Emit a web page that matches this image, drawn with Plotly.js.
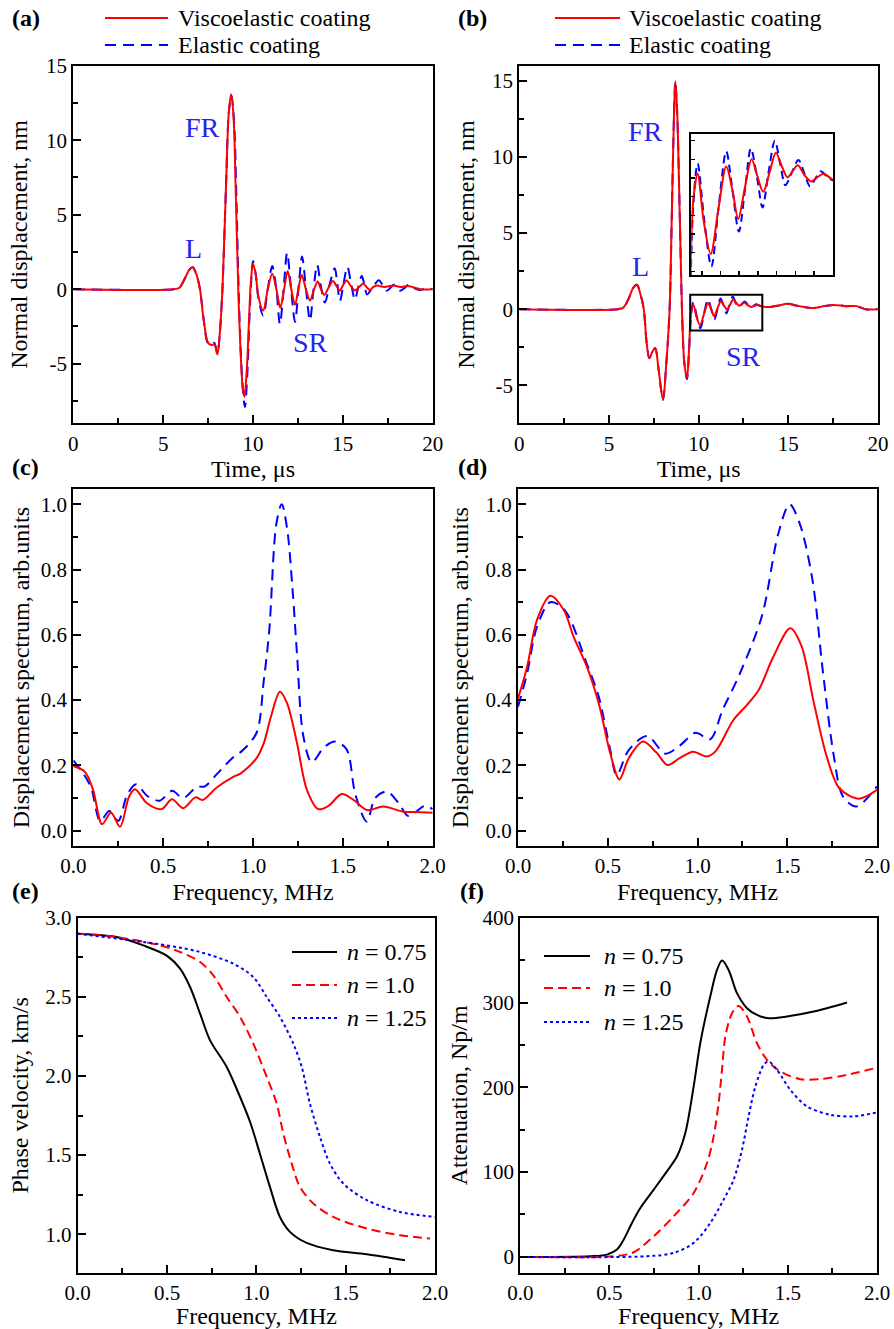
<!DOCTYPE html>
<html>
<head>
<meta charset="utf-8">
<script src="https://cdn.plot.ly/plotly-3.0.1.min.js"></script>
<style>html,body{margin:0;padding:0;background:#fff;}</style>
</head>
<body>
<div id="chart" style="width:894px;height:1329px;"></div>
<script>
// ---------- (a) time signals, thick coating ----------
const tRedA = [0,5.6,5.9,6.2,6.45,6.64,6.85,7.05,7.25,7.5,7.7,7.85,8.02,8.15,8.3,8.5,8.65,8.78,8.92,9.05,9.18,9.3,9.42,9.52,9.65,9.78,9.87,10.0,10.15,10.3,10.57,10.82,11.07,11.3,11.52,11.73,11.93,12.13,12.34,12.52,12.71,12.94,13.17,13.4,13.6,13.78,13.97,14.2,14.45,14.65,14.84,15.0,15.21,15.45,15.67,15.9,16.14,16.35,16.5,16.7,16.9,17.3,17.8,18.2,18.6,19.0,19.3,20];
const yRedA = [0,0,0.1,0.7,1.3,1.47,1.0,0,-2.0,-3.6,-3.75,-3.7,-4.37,-3,0,7,11.8,13.08,11.5,6,0,-4,-6.5,-7.23,-5.5,-2,0.3,1.7,1.0,-0.5,-1.43,0,1.03,0,-1.25,0,1.22,0,-1.05,0,0.95,0,-0.76,0,0.52,0,-0.38,0.1,0.55,0.2,-0.09,0.25,0.58,0.2,-0.09,0.15,0.36,0.1,-0.05,0.15,0.25,0.15,0.25,0.15,0.22,0.1,0,0];
const tBlueA = [0,5.6,5.9,6.2,6.45,6.64,6.85,7.05,7.25,7.5,7.7,7.85,8.02,8.15,8.3,8.5,8.65,8.8,8.95,9.08,9.2,9.32,9.45,9.55,9.68,9.8,9.9,10.0,10.15,10.3,10.57,10.82,11.07,11.3,11.5,11.7,11.9,12.12,12.34,12.53,12.73,12.95,13.17,13.37,13.57,13.78,14.0,14.28,14.55,14.7,14.84,15.03,15.25,15.47,15.67,15.85,16.05,16.2,16.35,16.7,17.0,17.25,17.45,17.65,17.85,18.2,18.45,18.72,19.0,19.3,19.6,20];
const yBlueA = [0,0,0.1,0.7,1.3,1.47,1.0,0,-2.0,-3.65,-3.75,-3.6,-4.3,-3,0,7,11.8,13.0,11.2,6,0,-4.2,-7,-7.9,-5.8,-2,0.5,1.9,1.0,-0.6,-1.77,0,1.55,0,-2.35,0,2.45,0,-2.2,0,2.2,0,-2.1,0,1.65,0.2,-0.9,0.4,1.4,0.3,-0.8,0.3,1.5,0.3,-0.7,0.1,0.9,0.3,-0.35,0.2,0.6,0.2,-0.1,0.1,0.3,-0.1,0.1,0.35,0.05,-0.05,0.05,0];

// ---------- (b) time signals, thin coating ----------
const tRedB = [0,5.5,5.8,6.1,6.35,6.56,6.75,6.94,7.1,7.25,7.42,7.58,7.75,8.01,8.2,8.38,8.5,8.62,8.7,8.8,8.95,9.07,9.2,9.35,9.47,9.58,9.71,9.88,10.08,10.3,10.52,10.7,10.86,11.05,11.24,11.4,11.57,11.75,11.93,12.1,12.26,12.4,12.55,12.75,12.93,13.1,13.29,13.55,14.0,14.5,14.93,15.6,16.32,17.0,17.53,18.2,18.8,19.3,20];
const yRedB = [0,0,0.1,0.7,1.4,1.6,1.0,0,-2.2,-3.22,-2.8,-2.56,-3.8,-5.95,-3.5,0,6,12.5,14.98,13,6,0,-3.5,-4.53,-2.5,-0.2,0.28,-0.5,-1.05,-0.3,0.40,0.0,-0.47,0.05,0.52,0.25,-0.02,0.3,0.63,0.4,0.22,0.32,0.42,0.25,0.15,0.22,0.28,0.18,0.15,0.25,0.35,0.2,0.07,0.2,0.28,0.2,0.2,0,0];
const tBlueB = [0,5.5,5.8,6.1,6.35,6.56,6.75,6.94,7.1,7.25,7.42,7.58,7.75,8.01,8.2,8.38,8.5,8.62,8.7,8.8,8.95,9.07,9.2,9.35,9.47,9.58,9.71,9.9,10.1,10.3,10.52,10.7,10.88,11.05,11.22,11.4,11.55,11.72,11.9,12.05,12.2,12.38,12.57,12.73,12.9,13.05,13.2,13.4,13.55,14.0,14.5,14.93,15.6,16.32,17.0,17.53,18.2,18.8,19.3,20];
const yBlueB = [0,0,0.1,0.7,1.4,1.6,1.0,0,-2.2,-3.22,-2.8,-2.56,-3.8,-5.95,-3.5,0,6,12.5,14.98,13,6,0,-3.5,-4.6,-2.6,-0.3,0.45,-0.5,-1.26,-0.3,0.65,0.0,-0.68,0.0,0.70,0.2,-0.28,0.3,0.83,0.45,0.09,0.3,0.51,0.3,0.07,0.2,0.32,0.22,0.17,0.15,0.25,0.35,0.2,0.07,0.2,0.28,0.2,0.2,0,0];
const insetX = [9.53, 13.55];
const insetY = [-1.4, 0.94];

// ---------- (c) spectra ----------
const fRedC = [0,0.065,0.11,0.16,0.21,0.26,0.31,0.343,0.41,0.49,0.55,0.61,0.68,0.72,0.8,0.89,0.93,1.02,1.06,1.1,1.15,1.19,1.243,1.3,1.363,1.42,1.494,1.56,1.636,1.725,1.836,1.9,2.0];
const sRedC = [0.198,0.18,0.125,0.02,0.055,0.012,0.104,0.127,0.084,0.066,0.096,0.069,0.102,0.094,0.133,0.165,0.175,0.222,0.268,0.35,0.426,0.39,0.273,0.125,0.066,0.076,0.112,0.094,0.063,0.074,0.058,0.057,0.055];
const fBlueC = [0,0.056,0.1,0.15,0.2,0.25,0.3,0.35,0.41,0.48,0.55,0.61,0.69,0.73,0.8,0.89,0.94,1.02,1.06,1.09,1.13,1.16,1.19,1.22,1.245,1.28,1.327,1.395,1.456,1.52,1.57,1.633,1.68,1.744,1.81,1.864,1.957,2.0];
const sBlueC = [0.215,0.175,0.13,0.03,0.06,0.03,0.11,0.142,0.107,0.092,0.122,0.1,0.135,0.135,0.174,0.225,0.245,0.3,0.46,0.61,0.94,1.0,0.925,0.74,0.54,0.29,0.21,0.255,0.273,0.25,0.11,0.028,0.1,0.12,0.085,0.045,0.076,0.066];

// ---------- (d) spectra ----------
const fRedD = [0,0.05,0.106,0.18,0.255,0.31,0.384,0.45,0.514,0.565,0.617,0.696,0.77,0.834,0.9,0.975,1.05,1.1,1.2,1.275,1.34,1.42,1.517,1.58,1.645,1.72,1.79,1.9,2.0];
const sRedD = [0.405,0.5,0.646,0.72,0.676,0.594,0.502,0.39,0.237,0.157,0.222,0.273,0.24,0.201,0.222,0.242,0.227,0.243,0.339,0.385,0.43,0.53,0.62,0.565,0.4,0.227,0.13,0.098,0.125];
const fBlueD = [0,0.05,0.106,0.18,0.26,0.384,0.45,0.514,0.55,0.617,0.72,0.82,0.9,0.99,1.07,1.14,1.235,1.36,1.45,1.513,1.57,1.64,1.7,1.76,1.81,1.885,2.0];
const sBlueD = [0.38,0.48,0.625,0.70,0.676,0.51,0.41,0.247,0.17,0.247,0.29,0.236,0.26,0.30,0.28,0.37,0.48,0.66,0.91,1.0,0.94,0.77,0.48,0.227,0.105,0.074,0.136];

// ---------- (e) phase velocity ----------
const fE075 = [0,0.218,0.367,0.498,0.573,0.629,0.685,0.741,0.834,0.909,0.965,1.02,1.076,1.132,1.188,1.282,1.43,1.618,1.832];
const vE075 = [2.899,2.878,2.825,2.76,2.678,2.562,2.394,2.225,2.057,1.867,1.709,1.509,1.299,1.109,1.015,0.945,0.899,0.874,0.836];
const fE100 = [0,0.218,0.461,0.573,0.685,0.759,0.834,0.909,0.983,1.058,1.114,1.151,1.198,1.244,1.319,1.431,1.618,1.804,1.972];
const vE100 = [2.899,2.878,2.825,2.783,2.72,2.636,2.499,2.373,2.204,1.994,1.825,1.636,1.446,1.299,1.194,1.109,1.036,0.994,0.973];
const fE125 = [0,0.498,0.685,0.871,0.983,1.058,1.132,1.207,1.254,1.3,1.356,1.412,1.487,1.618,1.804,2.0];
const vE125 = [2.899,2.825,2.783,2.709,2.625,2.499,2.373,2.204,2.057,1.825,1.615,1.446,1.32,1.215,1.141,1.109];

// ---------- (f) attenuation ----------
const fF075 = [0,0.393,0.486,0.542,0.58,0.626,0.673,0.748,0.822,0.879,0.925,0.972,1.009,1.065,1.103,1.131,1.168,1.215,1.271,1.327,1.392,1.495,1.645,1.832];
const aF075 = [0,0.8,2.7,8.6,20.4,40,57.7,79.3,100.9,118.6,146,201,252,307,338.4,349.4,338.4,311,293.3,285.4,281.5,283.5,289.3,300];
const fF100 = [0,0.523,0.636,0.748,0.86,0.972,1.047,1.084,1.112,1.131,1.15,1.187,1.224,1.271,1.327,1.383,1.458,1.57,1.682,1.832,1.99];
const aF100 = [0,0.8,5.5,24.3,47.9,75.4,110.7,142.1,181.4,220.6,260,287.4,296,283.5,252,232.4,218.7,209.6,209.6,214.7,222.6];
const fF125 = [0,0.71,0.86,0.972,1.065,1.14,1.196,1.243,1.28,1.318,1.365,1.392,1.439,1.514,1.607,1.738,1.869,2.0];
const aF125 = [0,0.8,4.7,16.5,40,67.5,91,126.4,165.7,201,226.5,230.5,220.6,197,177.5,167.6,165.7,170.4];

const seriesNames = ['Viscoelastic coating', 'Elastic coating'];
const nNames = ['<i>n</i> = 0.75', '<i>n</i> = 1.0', '<i>n</i> = 1.25'];
const yTickVals = [-5, 0, 5, 10, 15];
const yTickText = ['-5', '0', '5', '10', '15'];

// ---------- styling ----------
const FONT = 'Liberation Serif, Times New Roman, serif';
const RED = '#ff0000', BLUE = '#0000ff', BLACK = '#000000';
const LBL = '#2424f0';
const W = 894, H = 1329;
const px = v => v / W;
const py = v => 1 - v / H;
const DASH_AB = '11px,7px', DASH_N1 = '9px,5px', DOT_N2 = '3px,3px';

function line(color, dash){ return {color: color, width: 2, dash: dash || 'solid', shape: 'spline', smoothing: 0.9}; }

const traces = [
  {x: tBlueA, y: yBlueA, xaxis:'x', yaxis:'y', mode:'lines', name: seriesNames[1], line: line(BLUE, DASH_AB)},
  {x: tRedA, y: yRedA, xaxis:'x', yaxis:'y', mode:'lines', name: seriesNames[0], line: line(RED)},
  {x: tBlueB, y: yBlueB, xaxis:'x2', yaxis:'y2', mode:'lines', name: seriesNames[1], line: line(BLUE, DASH_AB)},
  {x: tRedB, y: yRedB, xaxis:'x2', yaxis:'y2', mode:'lines', name: seriesNames[0], line: line(RED)},
  {x: tBlueB, y: yBlueB, xaxis:'x7', yaxis:'y7', mode:'lines', name: seriesNames[1], line: line(BLUE, '8px,5px')},
  {x: tRedB, y: yRedB, xaxis:'x7', yaxis:'y7', mode:'lines', name: seriesNames[0], line: line(RED)},
  {x: fBlueC, y: sBlueC, xaxis:'x3', yaxis:'y3', mode:'lines', name: seriesNames[1], line: line(BLUE, DASH_AB)},
  {x: fRedC, y: sRedC, xaxis:'x3', yaxis:'y3', mode:'lines', name: seriesNames[0], line: line(RED)},
  {x: fBlueD, y: sBlueD, xaxis:'x4', yaxis:'y4', mode:'lines', name: seriesNames[1], line: line(BLUE, DASH_AB)},
  {x: fRedD, y: sRedD, xaxis:'x4', yaxis:'y4', mode:'lines', name: seriesNames[0], line: line(RED)},
  {x: fE075, y: vE075, xaxis:'x5', yaxis:'y5', mode:'lines', name: nNames[0], line: line(BLACK)},
  {x: fE100, y: vE100, xaxis:'x5', yaxis:'y5', mode:'lines', name: nNames[1], line: line(RED, DASH_N1)},
  {x: fE125, y: vE125, xaxis:'x5', yaxis:'y5', mode:'lines', name: nNames[2], line: line(BLUE, DOT_N2)},
  {x: fF075, y: aF075, xaxis:'x6', yaxis:'y6', mode:'lines', name: nNames[0], line: line(BLACK)},
  {x: fF100, y: aF100, xaxis:'x6', yaxis:'y6', mode:'lines', name: nNames[1], line: line(RED, DASH_N1)},
  {x: fF125, y: aF125, xaxis:'x6', yaxis:'y6', mode:'lines', name: nNames[2], line: line(BLUE, DOT_N2)}
];
traces.forEach(t => t.showlegend = false);

function axis(dom, anchor, range, dtick, mdtick, title, standoff, tsize, extra){
  const a = {
    domain: dom, anchor: anchor, range: range,
    showline: true, mirror: true, linecolor: BLACK, linewidth: 2,
    ticks: 'inside', ticklen: 8, tickwidth: 2, tickcolor: BLACK,
    dtick: dtick, tick0: 0,
    minor: {ticks: 'inside', ticklen: 5, tickwidth: 2, tickcolor: BLACK, dtick: mdtick, tick0: 0, showgrid: false},
    showgrid: false, zeroline: false,
    tickfont: {family: FONT, size: 21, color: BLACK},
    title: {text: title, font: {family: FONT, size: tsize, color: BLACK}, standoff: standoff}
  };
  return Object.assign(a, extra || {});
}

const xA = [px(73.3), px(432.7)], xB = [px(519.3), px(878)];
const xC = [px(73.3), px(432.7)], xD = [px(518), px(877)];
const xE = [px(77.7), px(435)], xF = [px(520.3), px(877)];
const yAB = [py(423.3), py(65.7)], yCD = [py(846), py(489.3)], yEF = [py(1273), py(917.7)];

const yTimeExtra = {tickmode: 'array', tickvals: yTickVals, ticktext: yTickText,
  minor: {ticks: 'inside', ticklen: 5, tickwidth: 2, tickcolor: BLACK, tickmode: 'linear', tick0: 0, dtick: 2.5}};
const f1 = {tickformat: '.1f'};

// hand-placed legends
const shapes = [
  {type: 'rect', xref: 'x2', yref: 'y2', x0: insetX[0], x1: insetX[1], y0: insetY[0], y1: insetY[1], line: {color: BLACK, width: 2}}
];
const annotations = [];
function legendRows(x0, x1, tx, rows){
  rows.forEach(r => {
    shapes.push({type: 'line', xref: 'paper', yref: 'paper', x0: px(x0), x1: px(x1), y0: py(r.y), y1: py(r.y),
                 line: {color: r.color, width: 2, dash: r.dash || 'solid'}});
    annotations.push({text: r.text, x: px(tx), y: py(r.y), xref: 'paper', yref: 'paper', xanchor: 'left', yanchor: 'middle',
                      showarrow: false, font: {family: FONT, size: 24, color: BLACK}});
  });
}
legendRows(105, 168, 176, [{y: 18, color: RED, text: seriesNames[0]}, {y: 45, color: BLUE, dash: DASH_AB, text: seriesNames[1]}]);
legendRows(555, 620, 627, [{y: 18, color: RED, text: seriesNames[0]}, {y: 45, color: BLUE, dash: DASH_AB, text: seriesNames[1]}]);
legendRows(292, 337, 345, [{y: 952, color: BLACK, text: nNames[0]}, {y: 985, color: RED, dash: DASH_N1, text: nNames[1]}, {y: 1018, color: BLUE, dash: DOT_N2, text: nNames[2]}]);
legendRows(544, 590, 602, [{y: 956, color: BLACK, text: nNames[0]}, {y: 988, color: RED, dash: DASH_N1, text: nNames[1]}, {y: 1022, color: BLUE, dash: DOT_N2, text: nNames[2]}]);

const lbl = (t, x, y, xr, yr) => ({text: t, x: x, y: y, xref: xr, yref: yr, showarrow: false, font: {family: FONT, size: 28, color: LBL}});
annotations.push(
  lbl('FR', 7.2, 10.83, 'x', 'y'), lbl('L', 6.68, 2.76, 'x', 'y'), lbl('SR', 13.2, -3.57, 'x', 'y'),
  lbl('FR', 7.03, 11.65, 'x2', 'y2'), lbl('L', 6.75, 2.8, 'x2', 'y2'), lbl('SR', 12.48, -3.11, 'x2', 'y2')
);
const panel = (t, x, y) => ({text: '<b>' + t + '</b>', x: px(x), y: py(y), xref: 'paper', yref: 'paper', xanchor: 'left', yanchor: 'middle', showarrow: false, font: {family: FONT, size: 24, color: BLACK}});
annotations.push(panel('(a)', 10, 18), panel('(b)', 456, 18), panel('(c)', 10, 467), panel('(d)', 456, 467), panel('(e)', 10, 891), panel('(f)', 458, 891));

const layout = {
  width: W, height: H,
  margin: {l: 0, r: 0, t: 0, b: 0},
  paper_bgcolor: 'white', plot_bgcolor: 'white',
  font: {family: FONT, size: 21, color: BLACK},
  showlegend: false,
  xaxis:  axis(xA, 'y',  [0, 20], 5, 2.5, 'Time, μs', 6, 24),
  yaxis:  axis(yAB, 'x', [-9, 15], 5, 2.5, 'Normal displacement, nm', 12, 24, yTimeExtra),
  xaxis2: axis(xB, 'y2', [0, 20], 5, 2.5, 'Time, μs', 6, 24),
  yaxis2: axis(yAB, 'x2', [-7.5, 16], 5, 2.5, 'Normal displacement, nm', 11, 24, yTimeExtra),
  xaxis3: axis(xC, 'y3', [0, 2], 0.5, 0.25, 'Frequency, MHz', 6, 24, f1),
  yaxis3: axis(yCD, 'x3', [-0.047, 1.046], 0.2, 0.1, 'Displacement spectrum, arb.units', 4, 24, f1),
  xaxis4: axis(xD, 'y4', [0, 2], 0.5, 0.25, 'Frequency, MHz', 6, 24, f1),
  yaxis4: axis(yCD, 'x4', [-0.047, 1.046], 0.2, 0.1, 'Displacement spectrum, arb.units', 10, 24, f1),
  xaxis5: axis(xE, 'y5', [0, 2], 0.5, 0.25, 'Frequency, MHz', 6, 24, f1),
  yaxis5: axis(yEF, 'x5', [0.755, 3.0], 0.5, 0.25, 'Phase velocity, km/s', 10, 24, f1),
  xaxis6: axis(xF, 'y6', [0, 2], 0.5, 0.25, 'Frequency, MHz', 6, 24, f1),
  yaxis6: axis(yEF, 'x6', [-19, 400], 100, 50, 'Attenuation, Np/m', 8, 24),
  xaxis7: {domain: [px(691.3), px(833)], anchor: 'y7', range: insetX, showline: true, mirror: true, linecolor: BLACK, linewidth: 2,
           ticks: 'inside', ticklen: 4, tickwidth: 1.5, tickcolor: BLACK, tick0: 9.83, dtick: 0.53, showticklabels: false, showgrid: false, zeroline: false},
  yaxis7: {domain: [py(275), py(134)], anchor: 'x7', range: insetY, showline: true, mirror: true, linecolor: BLACK, linewidth: 2,
           ticks: 'inside', ticklen: 4, tickwidth: 1.5, tickcolor: BLACK, tick0: -1.34, dtick: 0.31, showticklabels: false, showgrid: false, zeroline: false},
  shapes: shapes,
  annotations: annotations
};

Plotly.newPlot('chart', traces, layout, {staticPlot: true, displayModeBar: false});
</script>
</body>
</html>
